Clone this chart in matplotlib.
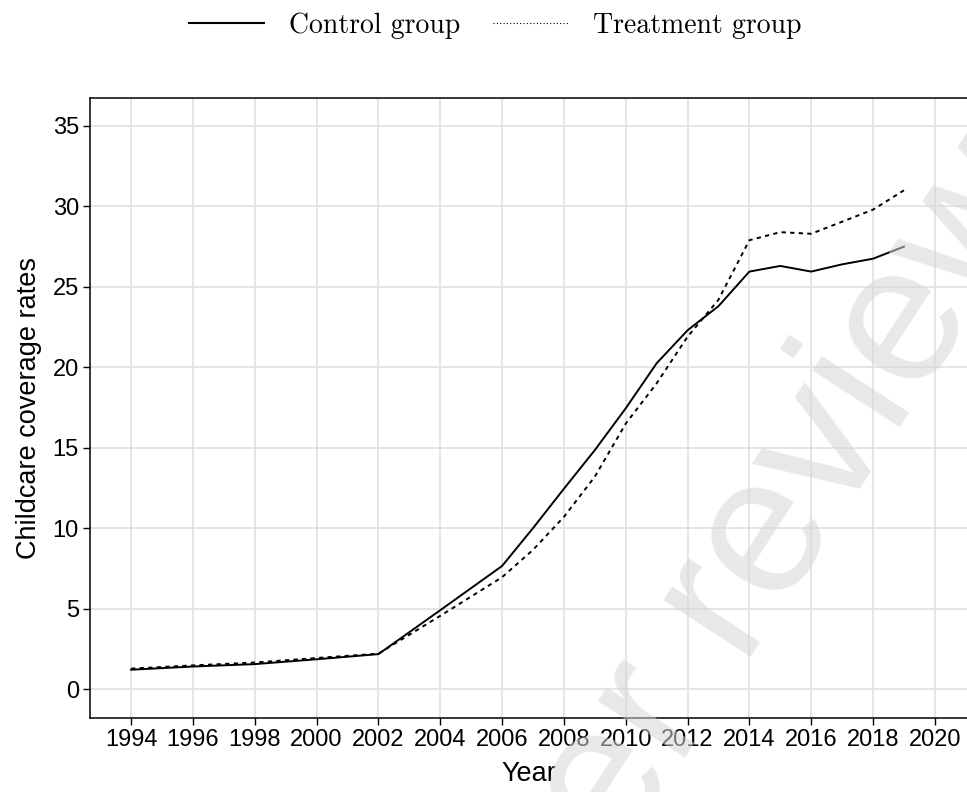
import matplotlib
matplotlib.use("Agg")
from matplotlib import pyplot as plt
from matplotlib.lines import Line2D

years = [1994, 1996, 1998, 2000, 2002, 2004, 2006, 2007, 2008, 2009,
         2010, 2011, 2012, 2013, 2014, 2015, 2016, 2017, 2018, 2019]
control = [1.2, 1.4, 1.55, 1.85, 2.17, 4.9, 7.65, 10.0, 12.45, 14.85,
           17.45, 20.25, 22.3, 23.8, 25.95, 26.3, 25.95, 26.4, 26.75, 27.5]
treatment = [1.27, 1.47, 1.65, 1.93, 2.2, 4.55, 6.95, 8.65, 10.7, 13.2,
             16.5, 19.0, 21.9, 24.2, 27.9, 28.4, 28.3, 29.05, 29.8, 31.0]

x_ticks = list(range(1994, 2021, 2))
y_ticks = [0, 5, 10, 15, 20, 25, 30, 35]

plt.rcParams["font.family"] = ["Liberation Sans", "DejaVu Sans"]

fig = plt.figure(figsize=(9.67, 7.92), dpi=100)
ax = fig.add_axes([90 / 967, 1 - 718 / 792, 1 - 90 / 967, (718 - 98) / 792])

ax.plot(years, control, color="black", lw=1.4, zorder=3)
ax.plot(years, treatment, color="black", lw=1.4, linestyle=(0, (2.2, 2.2)), zorder=3)

ax.set_xlim(1992.67, 2021.04)
ax.set_ylim(-1.8, 36.74)
ax.set_xticks(x_ticks)
ax.set_yticks(y_ticks)
ax.grid(True, color="#e3e3e3", lw=1.3, zorder=0)
ax.set_axisbelow(True)
ax.tick_params(direction="out", length=5, width=1, color="black",
               labelsize=17, labelcolor="black", pad=3)
for side in ["left", "bottom", "top"]:
    ax.spines[side].set_color("black")
    ax.spines[side].set_linewidth(1.1)
ax.spines["right"].set_visible(False)

ax.set_xlabel("Year", fontsize=19.5, labelpad=7)
ax.set_ylabel("Childcare coverage rates", fontsize=19.5, labelpad=8)

handles = [Line2D([], [], color="black", lw=1.5),
           Line2D([], [], color="black", lw=0.8, linestyle=(0, (1, 2)))]
fig.legend(handles, ["Control group", "Treatment group"], loc="center",
           bbox_to_anchor=(0.512, 0.968), ncol=2, frameon=False,
           prop={"family": "cmr10", "size": 20}, handlelength=2.7,
           handletextpad=0.9, columnspacing=1.2)

# watermark
fig.text(0.753, 0.245, "Peer review", fontsize=142, color="#d6d6d6", alpha=0.55,
         rotation=57, rotation_mode="anchor", ha="center", va="center", zorder=1)

fig.savefig("out.png", dpi=100)
